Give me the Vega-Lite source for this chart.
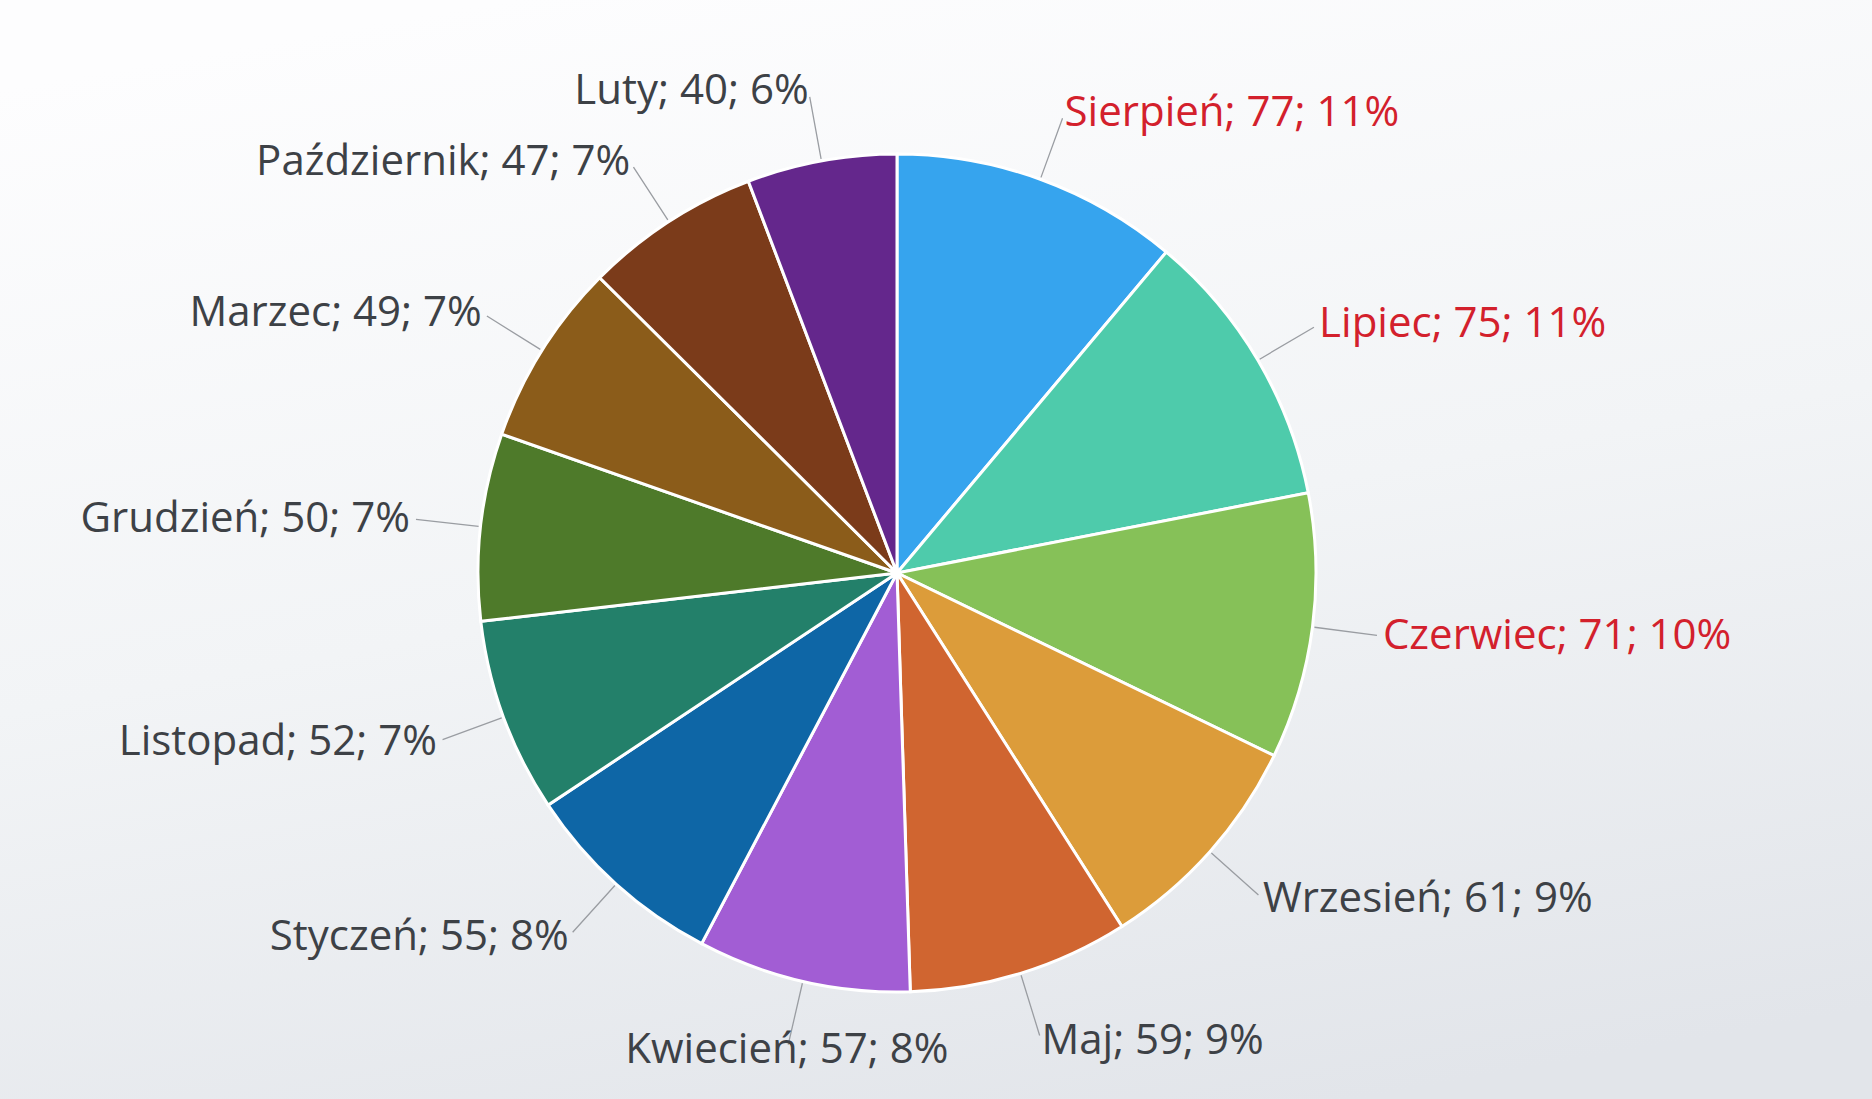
{
  "$schema": "https://vega.github.io/schema/vega-lite/v6.json",
  "autosize": {"type": "none"},
  "width": 1950,
  "height": 1146,
  "padding": {"left": -78, "top": 0, "right": 0, "bottom": -47},
  "background": "#f6f7f9",
  "config": {"view": {"stroke": null}, "text": {"font": "Open Sans"}},
  "layer": [
    {
      "data": {"values": [{}]},
      "mark": {
        "type": "rect",
        "fill": {
          "gradient": "linear", "x1": 0.3, "y1": 0, "x2": 0.6, "y2": 1,
          "stops": [
            {"offset": 0, "color": "#fdfdfe"},
            {"offset": 0.5, "color": "#f2f4f6"},
            {"offset": 1, "color": "#e2e5ea"}
          ]
        }
      },
      "encoding": {}
    },
    {
      "data": {
        "values": [
          {"m": "Sierpień", "v": 77, "p": 11},
          {"m": "Lipiec", "v": 75, "p": 11},
          {"m": "Czerwiec", "v": 71, "p": 10},
          {"m": "Wrzesień", "v": 61, "p": 9},
          {"m": "Maj", "v": 59, "p": 9},
          {"m": "Kwiecień", "v": 57, "p": 8},
          {"m": "Styczeń", "v": 55, "p": 8},
          {"m": "Listopad", "v": 52, "p": 7},
          {"m": "Grudzień", "v": 50, "p": 7},
          {"m": "Marzec", "v": 49, "p": 7},
          {"m": "Październik", "v": 47, "p": 7},
          {"m": "Luty", "v": 40, "p": 6}
        ]
      },
      "transform": [
        {"stack": "v", "groupby": [], "sort": [{"field": "v", "order": "descending"}], "as": ["v0", "v1"]},
        {"calculate": "(datum.v0 + datum.v1) / 2", "as": "mid"},
        {"calculate": "datum.m + '; ' + datum.v + '; ' + datum.p + '%'", "as": "label"}
      ],
      "layer": [
        {
          "mark": {"type": "arc", "outerRadius": 419, "stroke": "#ffffff", "strokeWidth": 3},
          "encoding": {
            "theta": {"field": "v0", "type": "quantitative", "scale": {"domain": [0, 693]}},
            "theta2": {"field": "v1"},
            "color": {
              "field": "m", "type": "nominal", "legend": null,
              "scale": {
                "domain": ["Sierpień", "Lipiec", "Czerwiec", "Wrzesień", "Maj", "Kwiecień", "Styczeń", "Listopad", "Grudzień", "Marzec", "Październik", "Luty"],
                "range": ["#36a4ee", "#4ecbab", "#86c158", "#dc9c3a", "#d06530", "#a25dd4", "#0e66a6", "#23806a", "#4e7a2a", "#8b5c1a", "#7b3b1a", "#64278c"]
              }
            }
          }
        },
        {
          "mark": {"type": "arc", "radius": 484, "radius2": 421, "fill": null, "stroke": "#9a9da2", "strokeWidth": 1.3},
          "encoding": {
            "theta": {"field": "mid", "type": "quantitative"},
            "theta2": {"field": "mid"}
          }
        },
        {
          "transform": [{"filter": "datum.mid < 330"}],
          "mark": {"type": "text", "radius": 490, "align": "left", "baseline": "middle", "fontSize": 42},
          "encoding": {
            "theta": {"field": "mid", "type": "quantitative"},
            "text": {"field": "label"},
            "color": {"condition": {"test": "datum.v >= 70", "value": "#d3202c"}, "value": "#3d4146"}
          }
        },
        {
          "transform": [{"filter": "datum.mid >= 330 && datum.mid < 400"}],
          "mark": {"type": "text", "radius": 490, "align": "center", "baseline": "middle", "fontSize": 42},
          "encoding": {
            "theta": {"field": "mid", "type": "quantitative"},
            "text": {"field": "label"},
            "color": {"value": "#3d4146"}
          }
        },
        {
          "transform": [{"filter": "datum.mid >= 400"}],
          "mark": {"type": "text", "radius": 490, "align": "right", "baseline": "middle", "fontSize": 42},
          "encoding": {
            "theta": {"field": "mid", "type": "quantitative"},
            "text": {"field": "label"},
            "color": {"value": "#3d4146"}
          }
        }
      ]
    }
  ]
}
